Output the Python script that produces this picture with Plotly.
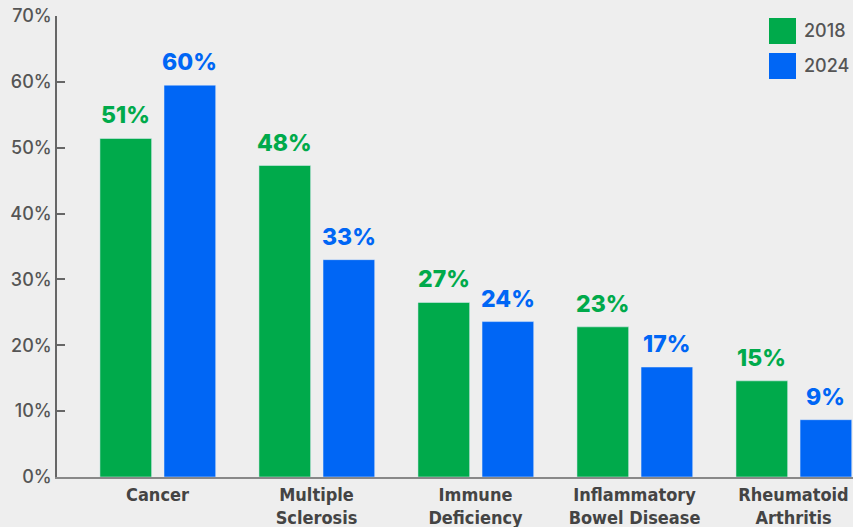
import plotly.graph_objects as go

categories = ["Cancer", "Multiple<br>Sclerosis", "Immune<br>Deficiency", "Inflammatory<br>Bowel Disease", "Rheumatoid<br>Arthritis"]
values_2018 = [51.4, 47.3, 26.5, 22.8, 14.6]
values_2024 = [59.5, 33.0, 23.6, 16.7, 8.7]
labels_2018 = ["51%", "48%", "27%", "23%", "15%"]
labels_2024 = ["60%", "33%", "24%", "17%", "9%"]
years = ["2018", "2024"]

GREEN = "#00AA4B"
BLUE = "#0066F5"
BG = "#EEEEEE"

W = 0.325
x_idx = list(range(len(categories)))

fig = go.Figure()
series = [(values_2018, labels_2018, GREEN, -0.362), (values_2024, labels_2024, BLUE, 0.041)]
for (vals, labs, col, off), yr in zip(series, years):
    fig.add_trace(go.Bar(
        x=x_idx, y=vals, name=yr, marker_color=col, width=W, offset=off,
        showlegend=False, hoverinfo="skip",
    ))
    for i, v, lab in zip(x_idx, vals, labs):
        fig.add_annotation(
            x=i + off + W / 2, y=v, text=lab, showarrow=False,
            yanchor="bottom", yshift=7, xref="x", yref="y",
            font=dict(family="Inter, Roboto, sans-serif", size=23, color=col, weight=800),
        )

# legend
for k, (yr, col) in enumerate(zip(years, [GREEN, BLUE])):
    y0 = 18 + k * 35
    fig.add_shape(type="rect", xref="paper", yref="paper",
                  x0=(769 - 57) / 796, x1=(796 - 57) / 796,
                  y0=1 - (y0 + 26 - 16) / 461, y1=1 - (y0 - 16) / 461,
                  fillcolor=col, line_width=0, layer="above")
    fig.add_annotation(xref="paper", yref="paper", x=(802 - 57) / 796,
                       y=1 - (y0 + 13 - 16) / 461, text=yr, showarrow=False,
                       xanchor="left", yanchor="middle",
                       font=dict(family="Inter, Roboto, sans-serif", size=18, color="#555555", weight=500))

fig.update_layout(
    width=853, height=527,
    margin=dict(l=57, r=0, t=16, b=50, autoexpand=False),
    paper_bgcolor=BG, plot_bgcolor=BG,
    showlegend=False,
    xaxis=dict(
        range=[-0.632, 4.374], tickmode="array", tickvals=x_idx,
        ticktext=[f"<b>{c}</b>" for c in categories], automargin=False,
        showgrid=False, zeroline=False, showline=True, linecolor="#888888", linewidth=2,
        ticks="", ticklabelstandoff=0,
        tickfont=dict(family="Liberation Sans Narrow, DejaVu Sans Condensed, sans-serif", size=18, color="#444444"),
    ),
    yaxis=dict(
        range=[0, 70], tickvals=[0, 10, 20, 30, 40, 50, 60, 70], automargin=False,
        ticktext=["0%", "10%", "20%", "30%", "40%", "50%", "60%", "70%"],
        showgrid=False, zeroline=False, showline=True, linecolor="#666666", linewidth=1.5,
        ticks="inside", ticklen=8, tickcolor="#666666", tickwidth=1.5,
        tickfont=dict(family="Inter, Roboto, sans-serif", size=18, color="#555555", weight=500),
    ),
)

fig.write_html("out.html")
